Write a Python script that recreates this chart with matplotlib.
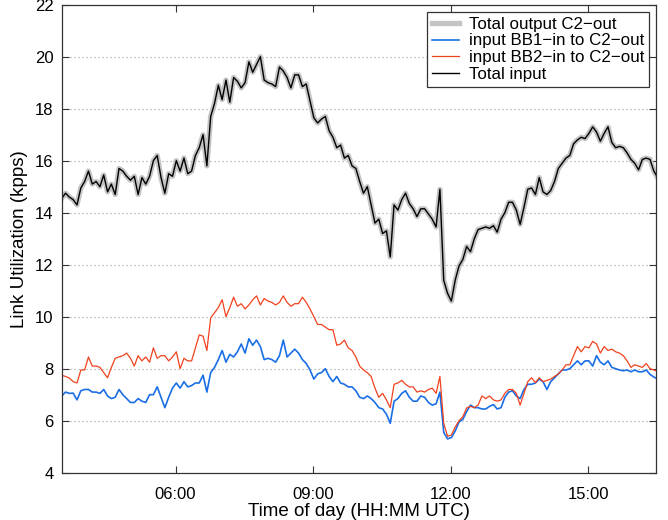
import matplotlib
matplotlib.use("Agg")
import matplotlib.pyplot as plt
from matplotlib.ticker import FixedLocator, FuncFormatter
import numpy as np

plt.rcParams["font.family"] = ["Liberation Sans", "DejaVu Sans"]

# samples every 5 minutes starting 03:31 UTC
start_hour = 3 + 31 / 60
step_minutes = 5

total_kpps = [
    14.55, 14.75, 14.6, 14.5, 14.3, 14.95, 15.2, 15.6, 15.1, 15.2,
    15.0, 15.45, 14.8, 15.1, 14.7, 15.7, 15.6, 15.4, 15.25, 15.4,
    14.7, 15.35, 15.1, 15.4, 16.0, 16.2, 15.35, 14.75, 15.5, 15.4,
    16.0, 15.6, 16.1, 15.5, 15.6, 16.2, 16.5, 17.0, 15.8, 17.7,
    18.2, 18.9, 18.35, 19.1, 18.25, 19.2, 19.05, 18.8, 19.0, 19.8,
    19.4, 19.7, 20.0, 19.1, 19.0, 18.95, 18.85, 19.6, 19.45, 19.2,
    18.8, 19.3, 19.3, 18.85, 18.95, 18.3, 17.65, 17.45, 17.6, 17.7,
    17.15, 16.9, 16.5, 16.6, 16.1, 16.2, 15.8, 15.7, 15.2, 14.75,
    15.0, 14.3, 13.6, 13.75, 13.2, 13.3, 12.3, 14.3, 14.1, 14.5,
    14.75, 14.35, 14.15, 13.85, 14.15, 14.15, 13.95, 13.75, 13.45, 14.9,
    11.4, 10.9, 10.6, 11.4, 11.95, 12.2, 12.7, 12.5, 13.0, 13.35,
    13.4, 13.45, 13.4, 13.5, 13.25, 13.75, 14.0, 14.4, 14.4, 14.1,
    13.55, 14.2, 14.9, 14.95, 14.7, 15.35, 14.8, 14.7, 14.85, 15.2,
    15.7, 15.9, 16.1, 16.2, 16.65, 16.8, 16.9, 16.85, 17.05, 17.3,
    17.1, 16.75, 17.05, 17.3, 16.7, 16.5, 16.55, 16.5, 16.3, 16.05,
    15.9, 15.65, 16.05, 16.1, 16.05, 15.6, 15.35,
]

bb1_kpps = [
    6.95, 7.1, 7.05, 7.06, 6.8, 7.15, 7.2, 7.2, 7.1, 7.1,
    7.05, 7.2, 6.95, 6.85, 6.9, 7.2, 7.0, 6.85, 6.7, 6.7,
    6.85, 6.75, 6.7, 7.0, 7.0, 7.3, 6.9, 6.5, 6.9, 7.25,
    7.45, 7.25, 7.5, 7.3, 7.35, 7.45, 7.45, 7.75, 7.1, 7.85,
    8.05, 8.35, 8.7, 8.25, 8.55, 8.45, 8.65, 8.95, 8.6, 9.15,
    8.9, 9.1, 8.85, 8.35, 8.4, 8.35, 8.25, 8.5, 9.1, 8.45,
    8.6, 8.75, 8.6, 8.35, 8.2, 7.95, 7.6, 7.8, 7.85, 8.0,
    7.7, 7.5, 7.7, 7.45, 7.4, 7.3, 7.3, 7.15, 6.9, 6.85,
    6.95, 6.85, 6.7, 6.5, 6.45, 6.25, 5.9, 6.75, 6.85, 7.05,
    7.15, 6.9, 6.75, 6.75, 6.95, 6.9, 6.7, 6.6, 6.65, 7.1,
    5.55, 5.3, 5.35, 5.6, 5.95, 6.05, 6.35, 6.6, 6.5, 6.5,
    6.45, 6.45, 6.55, 6.62, 6.45, 6.5, 6.9, 7.1, 7.15, 6.95,
    6.85, 7.2, 7.4, 7.4, 7.45, 7.6, 7.5, 7.2, 7.5, 7.65,
    7.8, 7.95, 7.95, 8.0, 8.15, 8.3, 8.15, 8.3, 8.3, 8.1,
    8.5, 8.25, 8.15, 8.3, 8.05, 8.0, 7.95, 7.92, 7.95, 7.88,
    7.95, 7.88, 7.88, 7.95, 7.78, 7.68, 7.6,
]

bb2_kpps = [
    7.75, 7.7, 7.64, 7.5, 7.45, 7.95, 7.95, 8.45, 8.1, 8.1,
    8.05, 7.85, 7.65, 8.05, 8.4, 8.45, 8.5, 8.6, 8.4, 8.1,
    8.5, 8.3, 8.45, 8.25, 8.8, 8.4, 8.5, 8.5, 8.3, 8.45,
    8.65, 8.0, 8.4, 8.3, 8.3, 8.8, 9.3, 9.25, 8.7, 9.95,
    10.15, 10.35, 10.65, 10.0, 10.35, 10.75, 10.4, 10.5, 10.3, 10.45,
    10.65, 10.8, 10.45, 10.7, 10.6, 10.55, 10.45, 10.55, 10.8, 10.55,
    10.4, 10.5, 10.5, 10.75, 10.55, 10.3, 10.0, 9.7, 9.7, 9.6,
    9.5, 9.5, 8.9, 8.95, 9.1, 8.8, 8.7, 8.45, 8.1, 7.95,
    7.85, 7.7, 7.25, 6.9, 7.05, 6.8, 6.5, 7.4, 7.45, 7.55,
    7.4, 7.3, 7.3, 7.1, 7.15, 7.1, 7.2, 7.25, 7.05, 7.7,
    5.9, 5.4, 5.45, 5.75, 6.0, 6.15, 6.49, 6.55, 6.5, 6.6,
    6.95, 6.85, 6.95, 6.8, 6.75, 6.8, 7.05, 7.2, 7.2, 7.05,
    6.6, 7.05, 7.5, 7.65, 7.46, 7.65, 7.5, 7.55, 7.6, 7.7,
    7.8, 7.95, 8.15, 8.15, 8.5, 8.85, 8.65, 8.85, 8.8, 9.05,
    8.95, 8.6, 8.85, 8.7, 8.75, 8.65, 8.6, 8.5, 8.3, 8.05,
    8.15, 8.1, 8.05, 8.2, 8.0, 7.95, 7.9,
]

hour_ticks = [6, 9, 12, 15]
y_ticks = list(range(4, 23, 2))

hours = start_hour + np.arange(len(total_kpps)) * step_minutes / 60

fig = plt.figure(figsize=(6.68, 5.2), dpi=100)
ax = fig.add_axes([0.0924, 0.091, 0.8896, 0.9])

ax.plot(hours, total_kpps, color="#c4c4c4", lw=3.8, solid_joinstyle="round",
        label="Total output C2\u2212out")
ax.plot(hours, bb1_kpps, color="#1a6fe6", lw=1.2, label="input BB1\u2212in to C2\u2212out")
ax.plot(hours, bb2_kpps, color="#f0421e", lw=0.9, label="input BB2\u2212in to C2\u2212out")
ax.plot(hours, total_kpps, color="black", lw=1.0, label="Total input")

ax.set_xlim(3.517, 16.48)
ax.set_ylim(4, 22)
ax.xaxis.set_major_locator(FixedLocator(hour_ticks))
ax.xaxis.set_major_formatter(FuncFormatter(lambda v, _: f"{int(v):02d}:00"))
ax.set_yticks(y_ticks)

ax.yaxis.grid(True, color="#9a9a9a", linestyle=(0, (1, 2.6)), lw=0.8)
ax.set_axisbelow(True)
ax.tick_params(direction="in", top=True, right=True, length=5, width=0.8,
               labelsize=12, color="#333333")
ax.tick_params(axis="x", pad=10)
ax.tick_params(axis="y", pad=6)
for spine in ax.spines.values():
    spine.set_color("#333333")
    spine.set_linewidth(0.9)

ax.set_xlabel("Time of day (HH:MM UTC)", fontsize=13.5, labelpad=1)
ax.set_ylabel("Link Utilization (kpps)", fontsize=13.5, labelpad=5)

leg = ax.legend(loc="upper right", bbox_to_anchor=(0.9887, 0.985), borderaxespad=0,
                fontsize=12.2, handlelength=1.55, handletextpad=0.6,
                labelspacing=0.1, borderpad=0.3, fancybox=False, framealpha=1)
leg.get_frame().set_edgecolor("#333333")
leg.get_frame().set_linewidth(0.9)

fig.savefig("out.png", dpi=100)
